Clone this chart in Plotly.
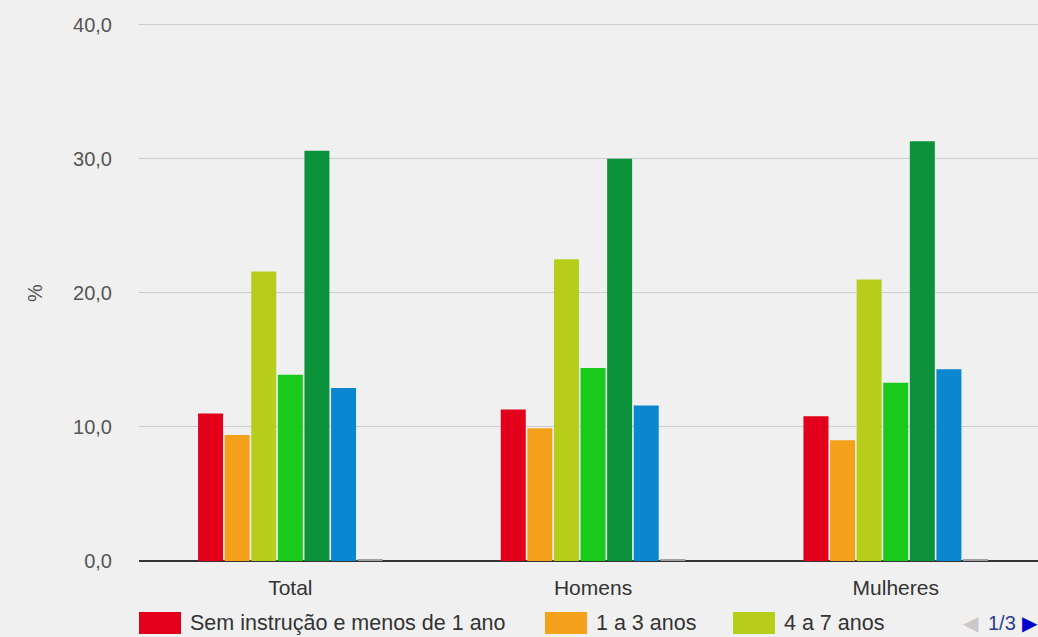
import plotly.graph_objects as go

# Distribuição (%) por anos de estudo
categorias = ["Total", "Homens", "Mulheres"]

series_nomes = [
    "Sem instrução e menos de 1 ano",
    "1 a 3 anos",
    "4 a 7 anos",
    "8 a 10 anos",
    "11 a 14 anos",
    "15 anos ou mais",
    "Não determinados",
]

sem_instrucao = [11.0, 11.3, 10.8]
anos_1_3 = [9.4, 9.9, 9.0]
anos_4_7 = [21.6, 22.5, 21.0]
anos_8_10 = [13.9, 14.4, 13.3]
anos_11_14 = [30.6, 30.0, 31.3]
anos_15_mais = [12.9, 11.6, 14.3]
nao_determinados = [0.1, 0.1, 0.1]

valores = [sem_instrucao, anos_1_3, anos_4_7, anos_8_10,
           anos_11_14, anos_15_mais, nao_determinados]

cores = ["#e2001a", "#f6a11b", "#b6cd1c", "#19c91c", "#0b923a", "#0b87d1", "#a0a0a0"]

y_ticks = [0, 10, 20, 30, 40]

FONT = "Arial, Liberation Sans, sans-serif"
W, H = 1038, 637
ML, MR, MT, MB = 139, 0, 22, 76
PW, PH = W - ML - MR, H - MT - MB


def px_x(x):
    return (x - ML) / PW


def px_y(y):
    return (H - MB - y) / PH


fig = go.Figure()
for nome, vals, cor in zip(series_nomes, valores, cores):
    fig.add_trace(go.Bar(
        x=categorias, y=vals, name=nome,
        marker=dict(color=cor, line=dict(width=0)),
        showlegend=False,
        hovertemplate="%{x}: %{y:.1f}<extra>" + nome + "</extra>",
    ))

fig.update_layout(
    width=W, height=H,
    margin=dict(l=ML, r=MR, t=MT, b=MB),
    paper_bgcolor="#f0f0f0",
    plot_bgcolor="#f0f0f0",
    barmode="group",
    bargap=0.385,
    bargroupgap=0.06,
    separators=",.",
    font=dict(family=FONT, size=20, color="#444444"),
    showlegend=False,
    xaxis=dict(
        range=[-0.5, 2.47],
        showgrid=False,
        showline=False,
        ticks="outside", ticklen=8, tickcolor="rgba(0,0,0,0)",
        tickfont=dict(family=FONT, size=21, color="#333333"),
    ),
    yaxis=dict(
        range=[0, 40.2],
        tickvals=y_ticks,
        tickformat=".1f",
        showgrid=True, gridcolor="#cccccc", gridwidth=1,
        zeroline=True, zerolinecolor="#333333", zerolinewidth=1.5,
        ticks="outside", ticklen=22, tickcolor="rgba(0,0,0,0)",
        tickfont=dict(family=FONT, size=20, color="#555555"),
        showline=False,
    ),
)

# axis title
fig.add_annotation(
    text="%", xref="paper", yref="paper",
    x=px_x(22), y=px_y(293), textangle=-90,
    showarrow=False, font=dict(family=FONT, size=20, color="#555555"),
)

# paged legend (page 1 of 3)
legenda_x = [139, 545, 733]
for nome, cor, lx in zip(series_nomes[:3], cores[:3], legenda_x):
    fig.add_shape(
        type="rect", xref="paper", yref="paper",
        x0=px_x(lx), x1=px_x(lx + 42), y0=px_y(634), y1=px_y(612),
        fillcolor=cor, line=dict(width=0),
    )
    fig.add_annotation(
        text=nome, xref="paper", yref="paper",
        x=px_x(lx + 49), y=px_y(623), xanchor="left", yanchor="middle",
        showarrow=False, font=dict(family=FONT, size=21.5, color="#333333"),
    )

# page controls
for texto, cor, cx in [("◀", "#c8c8c8", 971), ("1/3", "#2a3f8f", 1002), ("▶", "#0000cc", 1030)]:
    fig.add_annotation(
        text=texto, xref="paper", yref="paper", x=px_x(cx), y=px_y(623),
        xanchor="center", yanchor="middle", showarrow=False,
        font=dict(family=FONT, size=20, color=cor),
    )

fig.write_html("out.html")
